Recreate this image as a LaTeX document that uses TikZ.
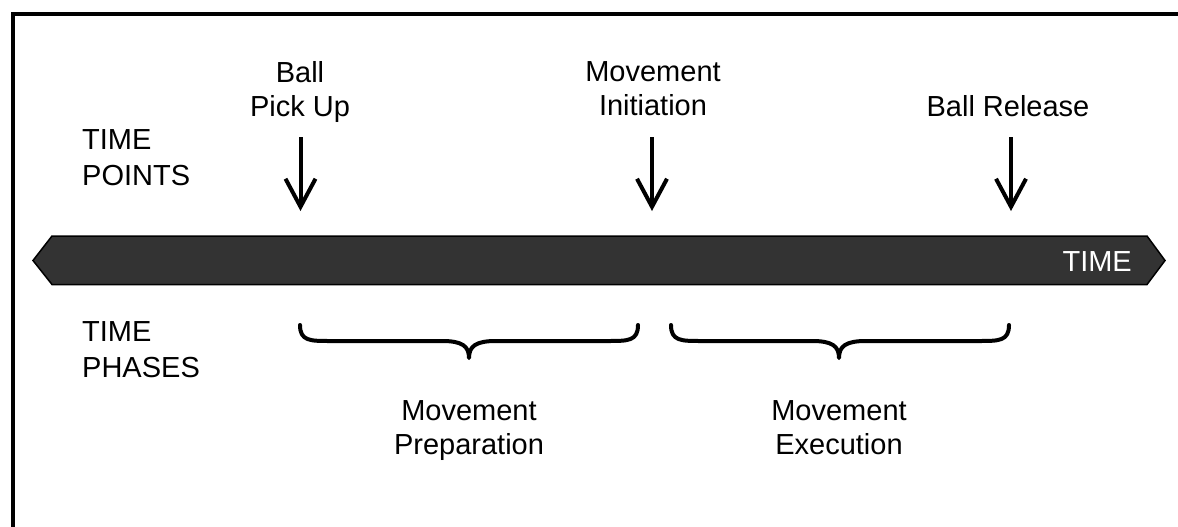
\documentclass[tikz,border=0pt]{standalone}
\usepackage{fontspec}
\setmainfont{Liberation Sans}
\usetikzlibrary{arrows.meta}
\definecolor{bardark}{HTML}{333333}
\tikzset{
  lbl/.style={font=\fontsize{29}{34}\selectfont, align=center, anchor=base, inner sep=0pt},
  side/.style={font=\fontsize{29}{36}\selectfont, align=left, anchor=base west, inner sep=0pt},
  pointer/.style={line width=4pt, -{Straight Barb[length=28pt,width=30pt]}},
  brace/.style={line width=4pt, line cap=round, line join=round},
}
\begin{document}
\begin{tikzpicture}[x=1pt,y=-1pt]
\useasboundingbox (0,0) rectangle (1178,527);
\begin{scope}
\clip (0,0) rectangle (1178,527);
\draw[line width=4pt] (13,14.5) rectangle (1230,580);
\end{scope}

% time bar
\draw[fill=bardark, line width=1.5pt, line join=miter]
  (33,260.5) -- (52,236) -- (1147,236) -- (1165,260.5) -- (1147,284.5) -- (52,284.5) -- cycle;
\node[font=\fontsize{29}{34}\selectfont, text=white, anchor=base east, inner sep=0pt] (timelbl) at (1132,271) {TIME};

% row labels (base anchor sits on the last line)
\node[side] (tpoints) at (82,185) {TIME\\POINTS};
\node[side] (tphases) at (82,377) {TIME\\PHASES};

% time point labels
\node[lbl] (pickup) at (300,116) {Ball\\Pick Up};
\node[lbl] (init) at (653,115) {Movement\\Initiation};
\node[lbl] (release) at (1008,116) {Ball Release};

% time point arrows
\coordinate (a1s) at (300.5,137); \coordinate (a1e) at (300.5,211);
\coordinate (a2s) at (652,137);   \coordinate (a2e) at (652,211);
\coordinate (a3s) at (1011,137);  \coordinate (a3e) at (1011,211);
\draw[pointer] (a1s) -- (a1e);
\draw[pointer] (a2s) -- (a2e);
\draw[pointer] (a3s) -- (a3e);

% phase braces
\coordinate (b1l) at (300,325); \coordinate (b1r) at (638,325); \coordinate (b1t) at (469,358);
\draw[brace] (b1l) .. controls (300,341) and (310,341) .. (330,341) -- (442,341)
  .. controls (462,341) and (469,346) .. (b1t)
  .. controls (469,346) and (476,341) .. (496,341) -- (608,341)
  .. controls (628,341) and (638,341) .. (b1r);
\coordinate (b2l) at (671,325); \coordinate (b2r) at (1009,325); \coordinate (b2t) at (839,358);
\draw[brace] (b2l) .. controls (671,341) and (681,341) .. (701,341) -- (812,341)
  .. controls (832,341) and (839,346) .. (b2t)
  .. controls (839,346) and (846,341) .. (866,341) -- (979,341)
  .. controls (999,341) and (1009,341) .. (b2r);

% phase labels
\node[lbl] (prep) at (469,454) {Movement\\Preparation};
\node[lbl] (exec) at (839,454) {Movement\\Execution};
\end{tikzpicture}
\end{document}
